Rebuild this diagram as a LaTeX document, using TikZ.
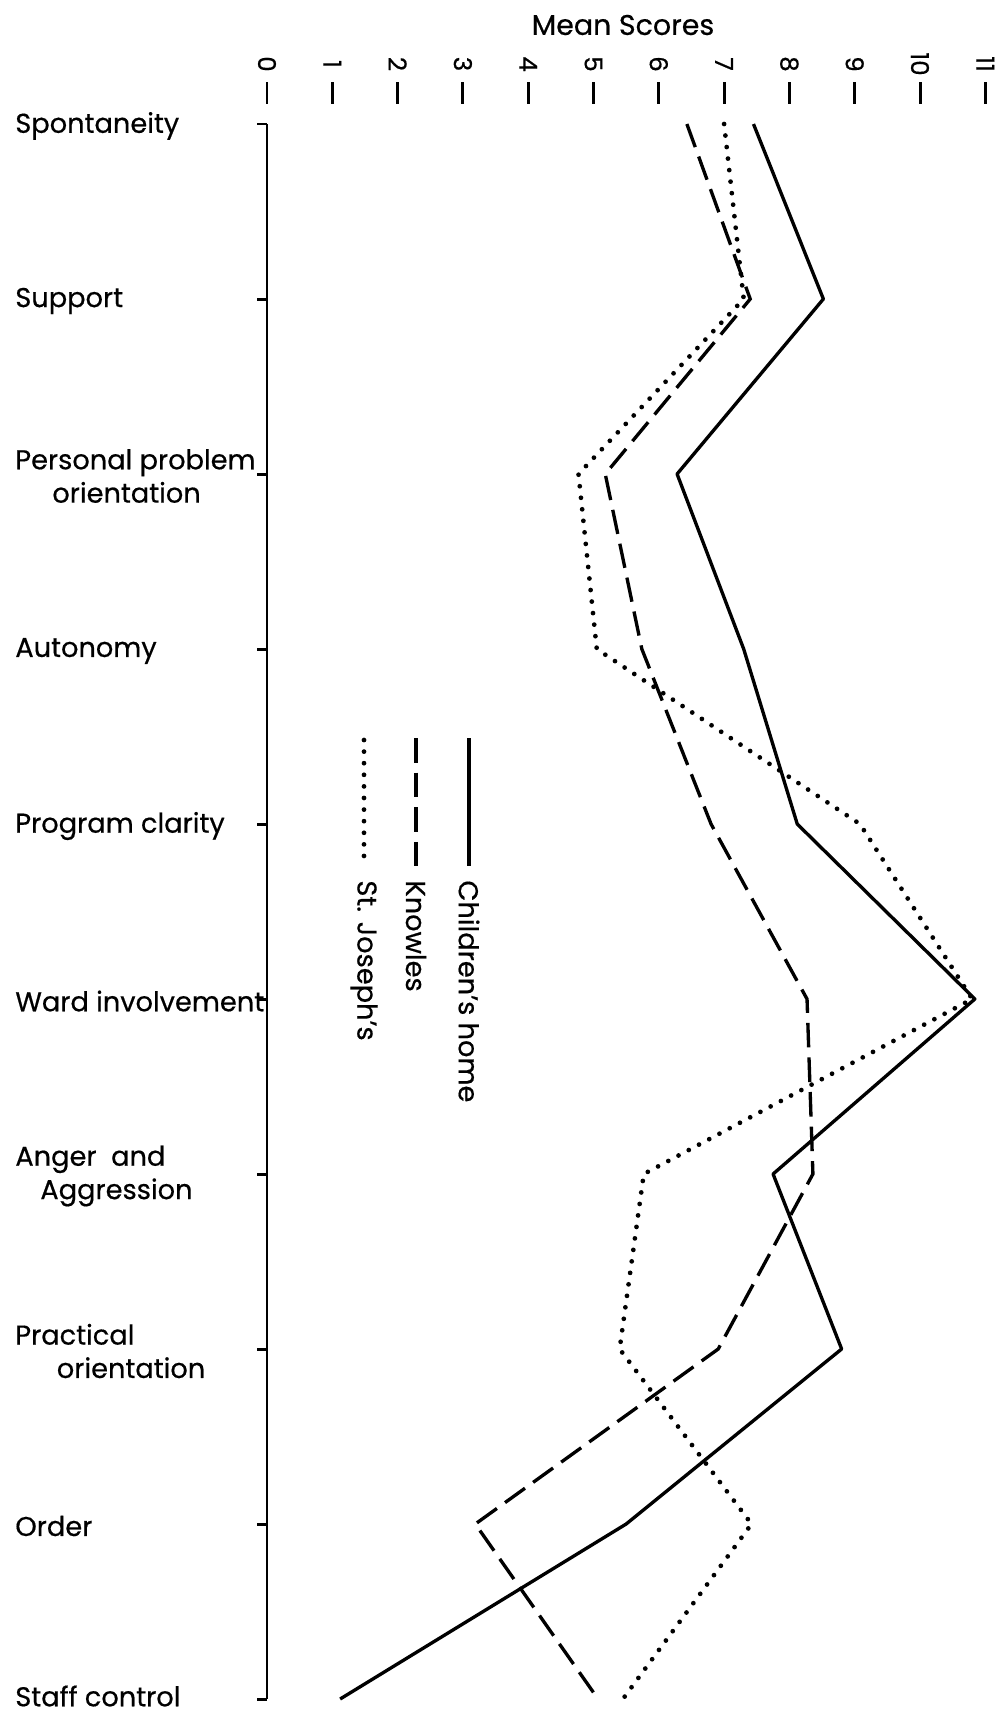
\documentclass[tikz,border=0pt]{standalone}
\usepackage{fontspec}
\setmainfont{Poppins}[FakeBold=0.5]
\begin{document}
\begin{tikzpicture}[x=0.02cm,y=-0.02cm]

\def\xzero{267}
\def\unit{65.3}
\def\ytop{124}
\def\ystep{175}

\tikzset{
        every node/.style={font=\fontsize{15.5}{19}\selectfont, inner sep=0pt},
        scaleline/.style={line width=1.7pt},
        tickmark/.style={line width=1.7pt},
        catname/.style={anchor=west, align=left},
        number/.style={rotate=-90, font=\fontsize{14}{16}\selectfont},
        key/.style={rotate=-90, anchor=west, inner sep=8pt},
        home/.style={line width=1.9pt, line join=round},
        knowles/.style={line width=1.9pt, dash pattern=on 14pt off 5.7pt},
        joseph/.style={line width=2.7pt, line cap=round, dash pattern=on 0pt off 6.6pt}
}

\useasboundingbox (0,0) rectangle (1002,1718);

\node[font=\fontsize{16.2}{19}\selectfont] (title) at (623,25) {Mean Scores};

% score scale along the top
\foreach \s in {0,...,11} {
     \node[number] (N\s) at (\xzero+\s*\unit,64) {\s};
     \draw[tickmark] (\xzero+\s*\unit,82) -- (\xzero+\s*\unit,104);
}

% category axis
\draw[scaleline] (\xzero,\ytop) -- (\xzero,\ytop+9*\ystep);

\foreach \i/\t/\dy in {0/Spontaneity/2,1/Support/2,
     2/{Personal problem\\\hspace*{0.74cm}orientation}/2,
     3/Autonomy/2,4/Program clarity/2,5/Ward involvement/2,
     6/{Anger\ \ and\\\hspace*{0.5cm}Aggression}/2,
     7/{Practical\\\hspace*{0.83cm}orientation}/2,
     8/Order/2,9/Staff control/-3} {
     \draw[tickmark] (\xzero-10,\ytop+\i*\ystep) -- (\xzero,\ytop+\i*\ystep);
     \node[catname] (L\i) at (15,\ytop+\i*\ystep+\dy) {\t};
}

% mean scores: home / knowles / st joseph
\foreach \i/\a/\b/\c in {0/7.45/6.43/7.0,1/8.52/7.4/7.3,2/6.28/5.18/4.77,
     3/7.3/5.74/5.05,4/8.12/6.8/9.08,5/10.84/8.27/10.8,6/7.75/8.36/5.77,
     7/8.8/6.91/5.4,8/5.5/3.19/7.42,9/1.12/5.07/5.45} {
     \coordinate (H\i) at (\xzero+\a*\unit,\ytop+\i*\ystep);
     \coordinate (K\i) at (\xzero+\b*\unit,\ytop+\i*\ystep);
     \coordinate (J\i) at (\xzero+\c*\unit,\ytop+\i*\ystep);
}

\draw[home] (H0) \foreach \i in {1,...,9} { -- (H\i) };
\draw[knowles] (K0) \foreach \i in {1,...,9} { -- (K\i) };
\draw[joseph] (J0) \foreach \i in {1,...,9} { -- (J\i) };

% key
\node[key] (home key) at (469,866) {Children’s home};
\node[key] (knowles key) at (416,866) {Knowles};
\node[key] (joseph key) at (364,866) {St. Joseph’s};

\coordinate (home start) at (469,738);
\coordinate (knowles start) at (416,738);
\coordinate (joseph start) at (364,740);

\draw[home] (home start) -- (home key.west);
\draw[knowles] (knowles start) -- (knowles key.west);
\draw[joseph] (joseph start) -- (joseph key.west);

\end{tikzpicture}
\end{document}
